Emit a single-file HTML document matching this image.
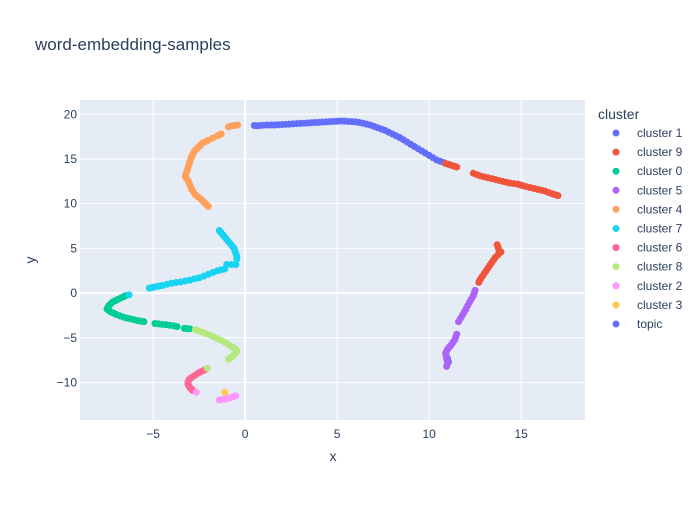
<!DOCTYPE html>
<html><head><meta charset="utf-8"><style>
body{margin:0;background:#fff;font-family:"Liberation Sans",Arial,sans-serif}
</style></head><body>
<svg id="c" width="700" height="500" xmlns="http://www.w3.org/2000/svg">
<rect width="700" height="500" fill="#fff"/>
<text x="35" y="50" font-size="17" fill="#2a3f5f">word-embedding-samples</text>
<rect x="80" y="100" width="505" height="320" fill="#e5ecf6"/>
<g id="grid"></g><g id="marks"></g><g id="legend"></g>
<text x="333" y="461" font-size="14" fill="#2a3f5f" text-anchor="middle">x</text>
<text x="35" y="260" font-size="14" fill="#2a3f5f" text-anchor="middle" transform="rotate(-90 35 260)">y</text>
</svg>
<script>
const xTicks=[-5,0,5,10,15];
const yTicks=[-10,-5,0,5,10,15,20];
const seriesNames=["cluster 1","cluster 9","cluster 0","cluster 5","cluster 4","cluster 7","cluster 6","cluster 8","cluster 2","cluster 3","topic"];
const seriesColors=["#636efa","#EF553B","#00cc96","#ab63fa","#FFA15A","#19d3f3","#FF6692","#B6E880","#FF97FF","#FECB52","#636efa"];
const c1x=[0.5,0.65,0.8,1.0,1.2,1.4,1.6,1.8,2.0,2.2,2.4,2.6,2.8,3.0,3.2,3.4,3.6,3.8,4.0,4.2,4.4,4.6,4.8,5.0,5.2,5.4,5.6,5.8,6.0,6.2,6.4,6.6,6.8,7.0,7.2,7.4,7.6,7.8,8.0,8.2,8.4,8.6,8.8,9.0,9.2,9.4,9.6,9.8,10.0,10.2,10.4,10.6,10.8,11.0,11.05,10.98];
const c1y=[18.75,18.72,18.75,18.78,18.8,18.8,18.8,18.83,18.85,18.88,18.9,18.93,18.95,18.98,19.0,19.03,19.05,19.08,19.1,19.13,19.15,19.18,19.2,19.22,19.25,19.23,19.2,19.18,19.15,19.08,19.0,18.9,18.8,18.65,18.5,18.35,18.2,18.0,17.8,17.6,17.4,17.15,16.9,16.65,16.4,16.15,15.9,15.65,15.4,15.15,14.9,14.75,14.6,-7.3,-7.7,-7.5];
const c9x=[10.9,11.05,11.2,11.35,11.5,12.4,12.6,12.8,13.0,13.2,13.4,13.6,13.8,14.0,14.2,14.4,14.6,14.8,14.95,15.1,15.3,15.5,15.7,15.9,16.1,16.3,16.5,16.7,16.85,17.0,13.7,13.75,13.8,13.9,13.75,13.6,13.5,13.4,13.3,13.2,13.1,13.0,12.9,12.8,12.75,12.7];
const c9y=[14.5,14.4,14.3,14.2,14.1,13.4,13.25,13.1,13.0,12.9,12.8,12.7,12.6,12.5,12.4,12.3,12.25,12.2,12.1,12.0,11.9,11.8,11.7,11.6,11.5,11.4,11.25,11.1,11.0,10.9,5.4,5.1,4.8,4.6,4.3,4.0,3.7,3.4,3.1,2.8,2.5,2.2,1.9,1.6,1.4,1.2];
const c0x=[-6.5,-6.6,-6.75,-6.9,-7.05,-7.2,-7.3,-7.4,-7.45,-7.5,-7.4,-7.3,-7.15,-7.0,-6.8,-6.6,-6.4,-6.2,-6.0,-5.8,-5.65,-5.5,-4.9,-4.7,-4.5,-4.3,-4.1,-3.9,-3.7,-3.3,-3.15,-3.0];
const c0y=[-0.3,-0.4,-0.55,-0.7,-0.85,-1.0,-1.2,-1.4,-1.6,-1.8,-1.95,-2.1,-2.25,-2.4,-2.55,-2.7,-2.8,-2.9,-3.0,-3.1,-3.15,-3.2,-3.4,-3.45,-3.5,-3.55,-3.6,-3.65,-3.75,-3.95,-3.98,-4.0];
const c5x=[12.5,12.45,12.4,12.3,12.2,12.1,12.0,11.9,11.8,11.7,11.6,11.5,11.45,11.4,11.3,11.2,11.1,11.0,10.95,10.9,10.92,10.95,10.98,11.0,10.95];
const c5y=[0.3,0.0,-0.3,-0.65,-1.0,-1.4,-1.8,-2.15,-2.5,-2.85,-3.2,-4.6,-4.9,-5.2,-5.5,-5.8,-6.05,-6.3,-6.5,-6.7,-7.0,-7.3,-7.6,-7.9,-8.2];
const c4x=[-0.4,-0.5,-0.6,-0.75,-0.9,-1.3,-1.4,-1.5,-1.75,-2.0,-2.15,-2.3,-2.4,-2.5,-2.6,-2.7,-2.78,-2.85,-2.9,-2.95,-3.0,-3.05,-3.1,-3.15,-3.2,-3.25,-3.2,-3.1,-3.05,-3.0,-2.95,-2.9,-2.8,-2.7,-2.55,-2.4,-2.3,-2.2,-2.1,-2.0];
const c4y=[18.8,18.78,18.75,18.7,18.6,17.8,17.7,17.6,17.35,17.1,16.95,16.8,16.6,16.4,16.2,16.0,15.75,15.5,15.25,15.0,14.7,14.4,14.05,13.7,13.4,13.1,12.85,12.6,12.35,12.1,11.85,11.6,11.3,11.0,10.75,10.5,10.3,10.1,9.9,9.7];
const c7x=[-1.4,-1.3,-1.2,-1.1,-1.0,-0.9,-0.8,-0.7,-0.6,-0.55,-0.5,-0.45,-0.45,-0.5,-0.75,-1.0,-1.1,-1.3,-1.5,-1.75,-2.0,-2.25,-2.5,-2.75,-3.0,-3.25,-3.5,-3.75,-4.0,-4.25,-4.5,-4.7,-4.9,-5.05,-5.2,-6.3];
const c7y=[7.0,6.75,6.5,6.25,6.0,5.75,5.5,5.25,5.0,4.7,4.4,4.1,3.8,3.2,3.2,3.2,2.7,2.6,2.5,2.3,2.1,1.9,1.7,1.6,1.45,1.35,1.25,1.18,1.1,0.98,0.85,0.78,0.7,0.62,0.55,-0.2];
const c6x=[-2.2,-2.35,-2.5,-2.65,-2.8,-2.95,-3.05,-3.1,-3.1,-3.05,-3.0,-2.9,-2.85];
const c6y=[-8.6,-8.75,-8.9,-9.1,-9.3,-9.5,-9.7,-9.95,-10.2,-10.4,-10.6,-10.75,-10.9];
const c8x=[-2.7,-2.5,-2.3,-2.1,-1.9,-1.7,-1.5,-1.3,-1.1,-0.95,-0.8,-0.65,-0.5,-0.45,-0.5,-0.6,-0.7,-0.8,-0.9,-2.05];
const c8y=[-4.1,-4.25,-4.4,-4.55,-4.7,-4.9,-5.1,-5.3,-5.5,-5.7,-5.9,-6.1,-6.3,-6.5,-6.7,-6.9,-7.1,-7.25,-7.4,-8.4];
const c2x=[-2.65,-1.4,-1.25,-1.1,-0.95,-0.8,-0.65,-0.5];
const c2y=[-11.1,-11.95,-11.9,-11.85,-11.78,-11.7,-11.6,-11.5];
const c3x=[-1.1];
const c3y=[-11.1];
const topicX=[];
const topicY=[];
const allX=[c1x,c9x,c0x,c5x,c4x,c7x,c6x,c8x,c2x,c3x,topicX];
const allY=[c1y,c9y,c0y,c5y,c4y,c7y,c6y,c8y,c2y,c3y,topicY];

const NS="http://www.w3.org/2000/svg";
const X0=80,X1=585,Y0=100,Y1=420,xmin=-8.97,xmax=18.47,ymin=-14.2,ymax=21.6;
const sx=v=>X0+(v-xmin)/(xmax-xmin)*(X1-X0);
const sy=v=>Y1-(v-ymin)/(ymax-ymin)*(Y1-Y0);
function mk(t,a,p){const e=document.createElementNS(NS,t);for(const k in a)e.setAttribute(k,a[k]);p.appendChild(e);return e;}
const grid=document.getElementById('grid');
xTicks.forEach(t=>{
  const l=mk('line',{x1:sx(t),x2:sx(t),y1:Y0,y2:Y1,stroke:'#fff','stroke-width':t===0?2:1},grid);
  
  
  const tx=mk('text',{x:sx(t),y:Y1+18,'font-size':12,fill:'#2a3f5f','text-anchor':'middle'},grid);
  tx.textContent=t<0?'\u2212'+(-t):t;
  
  
});
yTicks.forEach(t=>{
  const l=mk('line',{x1:X0,x2:X1,y1:sy(t),y2:sy(t),stroke:'#fff','stroke-width':t===0?2:1},grid);
  
  
  const tx=mk('text',{x:X0-3,y:sy(t)+4,'font-size':12,fill:'#2a3f5f','text-anchor':'end'},grid);
  tx.textContent=t<0?'\u2212'+(-t):t;
  
  
});
const marks=document.getElementById('marks');
allX.forEach((xs,i)=>{
  xs.forEach((x,j)=>{
    const c=mk('circle',{cx:sx(x),cy:sy(allY[i][j]),r:3.5,fill:seriesColors[i]},marks);
    
    
  });
});
const lg=document.getElementById('legend');
const lt=mk('text',{x:598,y:119,'font-size':14,fill:'#2a3f5f'},lg);
lt.textContent='cluster';


seriesNames.forEach((n,i)=>{
  const y=133+i*19.1;
  const g=mk('g',{},lg);
  
  
  mk('circle',{cx:616,cy:y,r:3.5,fill:seriesColors[i]},g);
  const t=mk('text',{x:637,y:y+4,'font-size':12,fill:'#2a3f5f'},g);
  t.textContent=n;
});
</script>
</body></html>
